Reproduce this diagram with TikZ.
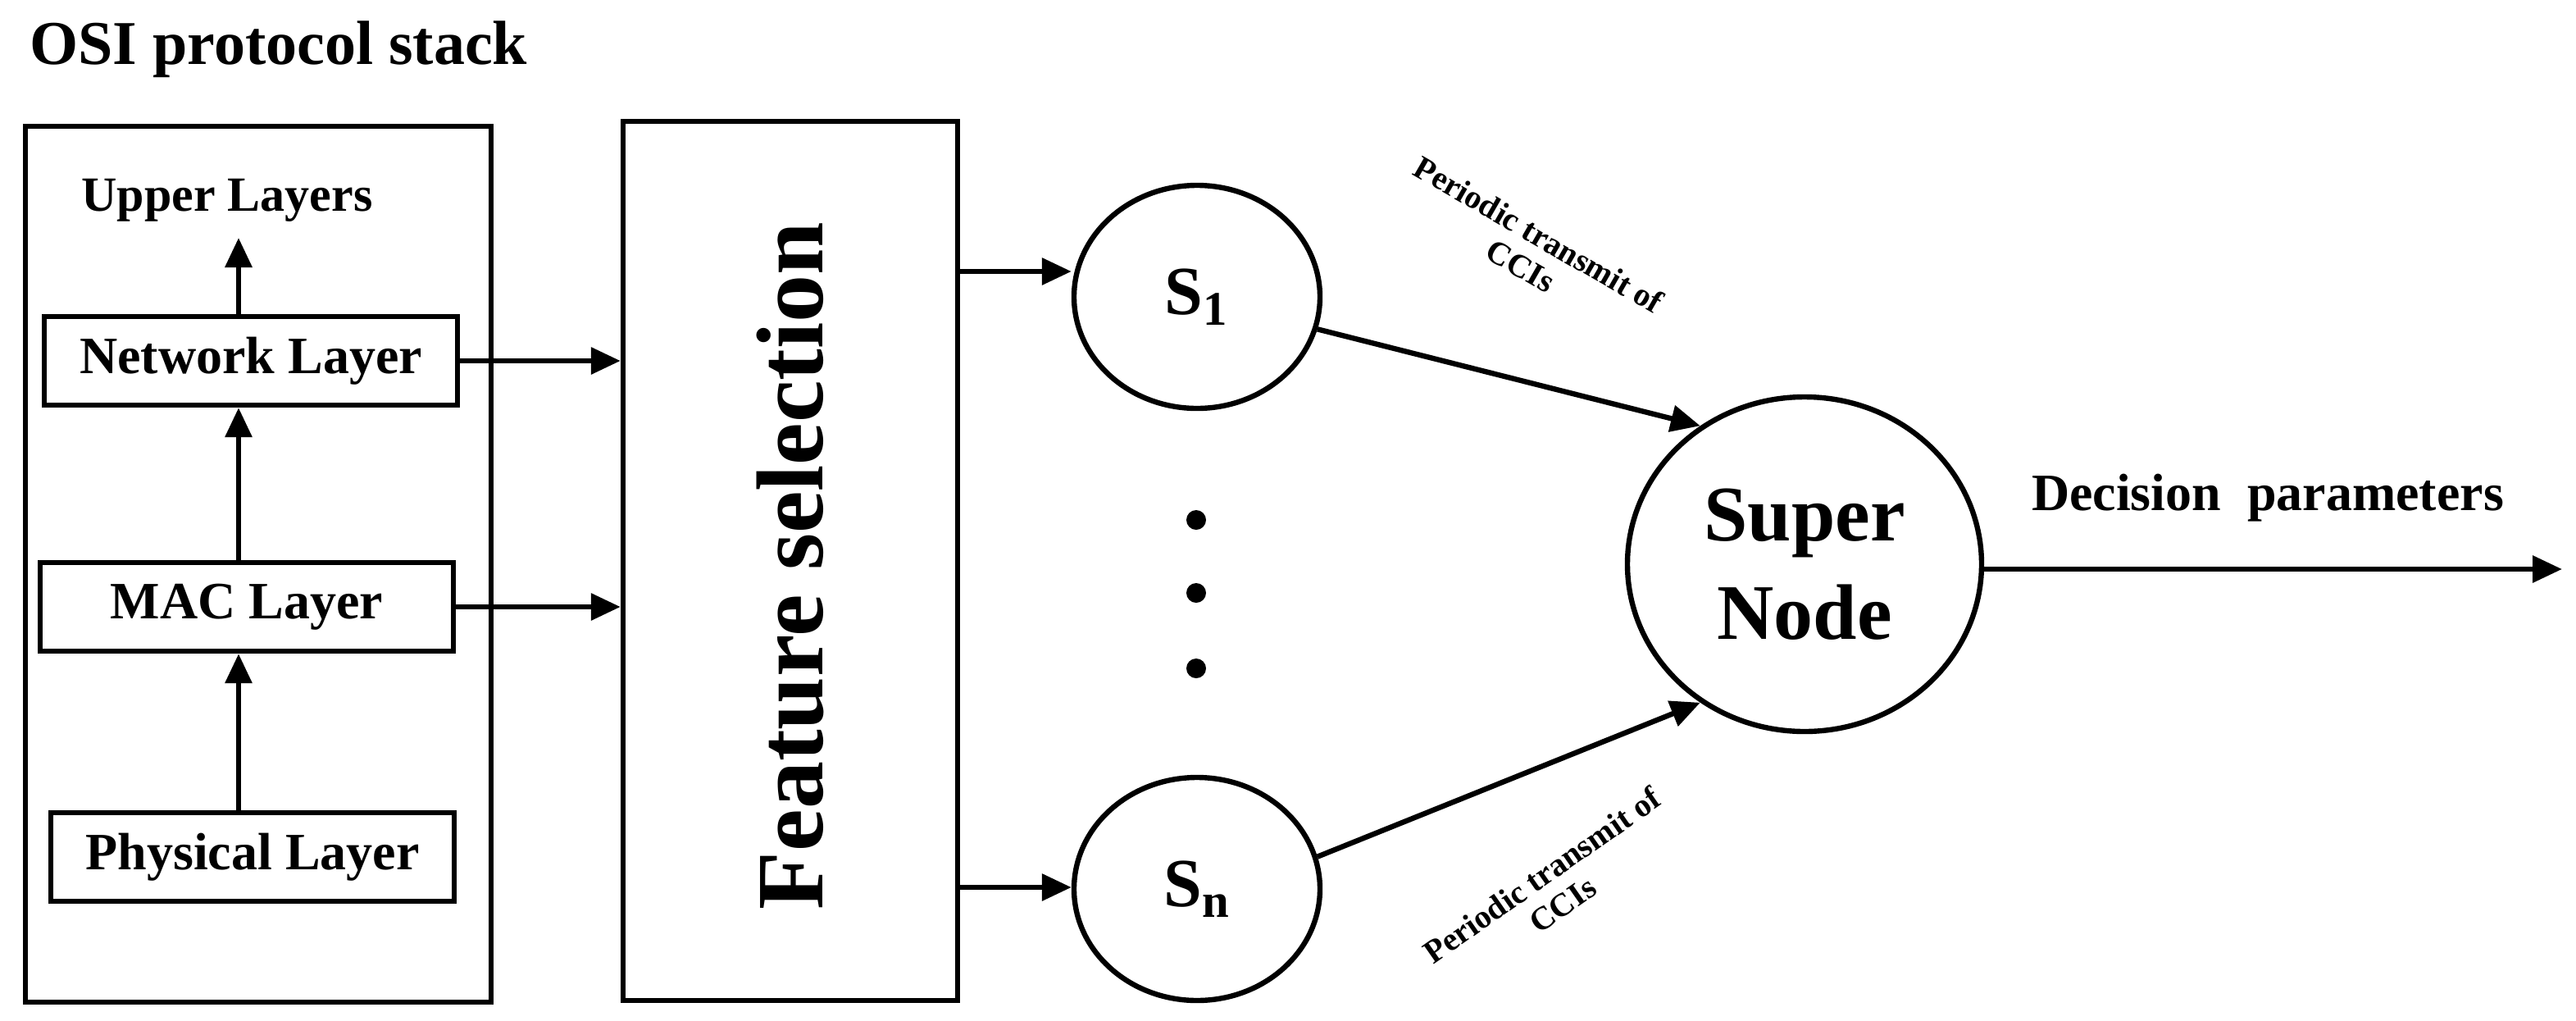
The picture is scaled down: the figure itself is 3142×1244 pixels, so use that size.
\documentclass[tikz,border=0pt]{standalone}
\usepackage{fontspec}
\setmainfont{Liberation Serif}
\usetikzlibrary{arrows.meta,shapes.geometric}
\tikzset{every picture/.style={line width=1.6pt},
  layer/.style={draw, minimum height=27pt, inner sep=0pt, font=\fontsize{16}{18}\selectfont\bfseries},
  snode/.style={draw, ellipse, minimum width=75pt, minimum height=68pt, inner sep=0pt, font=\fontsize{21}{24}\selectfont\bfseries},
  arr/.style={-{Triangle[length=9pt,width=8pt]}},
  small/.style={font=\fontsize{10}{11}\selectfont\bfseries, align=center}}
\begin{document}
\begin{tikzpicture}[x=0.25pt,y=0.25pt,yscale=-1,xscale=1]
  \useasboundingbox (0,0) rectangle (3142,1244);
  %title
  \node (title) [anchor=base west, font=\fontsize{19}{22}\selectfont\bfseries] at (20,78) {OSI protocol stack};
  %stack
  \node (stack) [draw, minimum width=142pt, minimum height=267pt, inner sep=0pt] at (315,688) {};
  \node (upper) [font=\fontsize{15}{18}\selectfont\bfseries] at (277,244) {Upper Layers};
  \node (net) [layer, minimum width=126pt] at (306,440) {Network Layer};
  \node (mac) [layer, minimum width=126pt] at (301,740) {MAC Layer};
  \node (phy) [layer, minimum width=123pt] at (308,1045) {Physical Layer};
  \coordinate (up) at (291,290);
  \draw [arr] (phy.north -| 291,0) -- (mac.south -| 291,0);
  \draw [arr] (mac.north -| 291,0) -- (net.south -| 291,0);
  \draw [arr] (net.north -| 291,0) -- (up);
  %feature selection
  \node (feat) [draw, minimum width=102pt, minimum height=268pt, inner sep=0pt] at (964,684) {};
  \node (featlbl) [rotate=90, font=\fontsize{29}{32}\selectfont\bfseries] at (964,690) {Feature selection};
  \draw [arr] (net.east) -- (net.east -| feat.west);
  \draw [arr] (mac.east) -- (mac.east -| feat.west);
  %sensor nodes
  \node (s1) [snode] at (1460,362) {S$_\mathbf{1}$};
  \node (sn) [snode] at (1460,1084) {S$_\mathbf{n}$};
  \draw [arr] (feat.east |- 0,331) -- (s1.west |- 0,331);
  \draw [arr] (feat.east |- 0,1082) -- (sn.west |- 0,1082);
  \foreach \y in {634,723,815} \fill (1459,\y) circle (3pt);
  %super node
  \node (sup) [draw, ellipse, minimum width=108pt, minimum height=102pt, inner sep=0pt, align=center,
    font=\fontsize{24}{30}\selectfont\bfseries] at (2201,688) {Super\\Node};
  \draw [arr] (s1.-15) -- (sup.127);
  \draw [arr] (sn.15) -- (sup.-127);
  \node (p1) [small, rotate=-30] at (1866,305) {Periodic transmit of\\CCIs};
  \node (p2) [small, rotate=35] at (1893,1085) {Periodic transmit of\\CCIs};
  %output
  \coordinate (out) at (3125,694);
  \draw [arr] (sup.east |- out) -- (out);
  \node (dec) [font=\fontsize{16}{18}\selectfont\bfseries] at (2766,607) {Decision\ \ parameters};
\end{tikzpicture}
\end{document}
